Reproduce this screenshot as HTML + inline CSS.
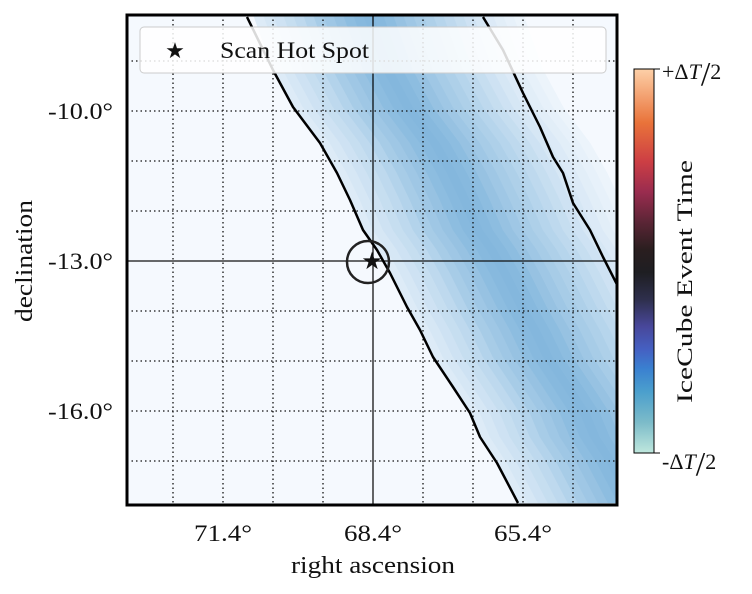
<!DOCTYPE html>
<html><head><meta charset="utf-8"><style>
body{margin:0;background:#fff;}
svg text{font-family:"Liberation Serif",serif;fill:#111;}
</style></head><body>
<svg id="chart" width="752" height="589" viewBox="0 0 752 589" xmlns="http://www.w3.org/2000/svg">
<defs>
<clipPath id="plotclip"><rect x="127" y="15" width="490" height="490"/></clipPath>
<linearGradient id="cbgrad" x1="0" y1="1" x2="0" y2="0">
<stop offset="0" stop-color="#bfe7dd"/><stop offset="0.08" stop-color="#7cbbc9"/><stop offset="0.16" stop-color="#4b9fcd"/><stop offset="0.22" stop-color="#3a80d0"/><stop offset="0.27" stop-color="#4560c2"/><stop offset="0.33" stop-color="#48479a"/><stop offset="0.4" stop-color="#2e2f4c"/><stop offset="0.47" stop-color="#1e1e22"/><stop offset="0.53" stop-color="#2a1e1f"/><stop offset="0.6" stop-color="#5a2535"/><stop offset="0.68" stop-color="#9a2c4f"/><stop offset="0.76" stop-color="#cd3f44"/><stop offset="0.86" stop-color="#e9733a"/><stop offset="1" stop-color="#fdd0a8"/>
</linearGradient>
</defs>
<rect x="127" y="15" width="490" height="490" fill="#f5f9fe"/>
<g id="heat" clip-path="url(#plotclip)"></g>
<g id="grid" clip-path="url(#plotclip)"></g>
<g id="contours" clip-path="url(#plotclip)"></g>
<circle cx="368" cy="262" r="21" fill="none" stroke="#222" stroke-width="2.5"/>
<text x="372" y="269" font-size="24" text-anchor="middle" style="font-family:'DejaVu Sans',sans-serif">★</text>
<rect x="127" y="15" width="490" height="490" fill="none" stroke="#000" stroke-width="3"/>
<g>
<rect x="140" y="27" width="466" height="46" rx="4" fill="#fff" fill-opacity="0.85" stroke="#ccc" stroke-width="1"/>
<text x="175" y="58" font-size="22" text-anchor="middle" style="font-family:'DejaVu Sans',sans-serif">★</text>
<text x="220" y="58" font-size="23" textLength="149" lengthAdjust="spacingAndGlyphs">Scan Hot Spot</text>
</g>
<g id="ticks"></g>
<text x="291" y="573" font-size="24" textLength="164" lengthAdjust="spacingAndGlyphs">right ascension</text>
<text transform="translate(32,322) rotate(-90)" font-size="24" textLength="122" lengthAdjust="spacingAndGlyphs">declination</text>
<g>
<rect x="634" y="69" width="20" height="384" fill="url(#cbgrad)" stroke="#000" stroke-width="1"/>
<line x1="654" y1="69" x2="660" y2="69" stroke="#000"/><line x1="654" y1="453" x2="660" y2="453" stroke="#000"/>
<text x="662" y="79" font-size="22">+Δ<tspan font-style="italic">T</tspan><tspan font-size="34" dy="6">/</tspan><tspan dy="-6">2</tspan></text>
<text x="662" y="469" font-size="22">-Δ<tspan font-style="italic">T</tspan><tspan font-size="34" dy="6">/</tspan><tspan dy="-6">2</tspan></text>
<text transform="translate(692,403) rotate(-90)" font-size="22" textLength="243" lengthAdjust="spacingAndGlyphs">IceCube Event Time</text>
</g>
</svg>
<script>
const leftRA=[70.92,70.4,70.0,69.46,69.12,68.86,68.6,68.32,68.06,67.72,67.46,67.2,66.8,66.46,66.26,65.92,65.5];
const leftDec=[-8.12,-9.18,-9.92,-10.64,-11.24,-11.78,-12.38,-12.78,-13.24,-13.92,-14.38,-14.92,-15.52,-16.04,-16.52,-17.04,-17.84];
const rightRA=[66.2,65.8,65.4,65.06,64.8,64.6,64.4,64.06,63.8,63.3];
const rightDec=[-8.12,-8.78,-9.64,-10.32,-10.92,-11.24,-11.84,-12.38,-12.92,-13.9];
const stripeOffsets=[0,0.2,0.4,0.6,0.8,1.0,1.2,1.4,1.6,1.8,2.0,2.2,2.4,2.6,2.8,3.0,3.2,3.4,3.6,3.8,4.0,4.2,4.4,4.6,4.8,5.0,5.2];
const stripeValues=[0.15,0.2,0.25,0.3,0.35,0.42,0.5,0.55,0.6,0.66,0.7,0.72,0.7,0.66,0.6,0.55,0.5,0.45,0.4,0.35,0.3,0.25,0.2,0.16,0.12,0.09,0.06];
const raTicks=[71.4,68.4,65.4];
const decTicks=[-10,-13,-16];
const raGrid=[72.4,71.4,70.4,69.4,68.4,67.4,66.4,65.4,64.4];
const decGrid=[-9,-10,-11,-12,-13,-14,-15,-16,-17];
const NS='http://www.w3.org/2000/svg';
function xS(ra){return 373-(ra-68.4)*50;}
function yS(d){return 261-(d+13)*50;}
function mk(t,a,p){const e=document.createElementNS(NS,t);for(const k in a)e.setAttribute(k,a[k]);p.appendChild(e);return e;}
function col(v){const a=[245,249,254],b=[88,158,208];return 'rgb('+a.map((c,i)=>Math.round(c+(b[i]-c)*v)).join(',')+')';}
const heat=document.getElementById('heat');
for(let i=0;i<stripeOffsets.length;i++){
  const o=stripeOffsets[i],w=0.2;
  let pts=[];
  for(let j=0;j<leftRA.length;j++)pts.push([xS(leftRA[j]-o),yS(leftDec[j])]);
  for(let j=leftRA.length-1;j>=0;j--)pts.push([xS(leftRA[j]-o-w),yS(leftDec[j])]);
  pts[0][1]-=20;pts[pts.length-1][1]-=20;
  const p=mk('polygon',{points:pts.map(q=>q.join(',')).join(' '),fill:col(stripeValues[i]),stroke:col(stripeValues[i]),'stroke-width':0.5},heat);
  
  
}
const grid=document.getElementById('grid');
raGrid.forEach(r=>{const l=mk('line',{x1:xS(r),x2:xS(r),y1:15,y2:505,stroke:r===68.4?'#000':'#111','stroke-width':r===68.4?1.2:1.3,'stroke-dasharray':r===68.4?'none':'1.5,3'},grid);

});
decGrid.forEach(d=>{const l=mk('line',{y1:yS(d),y2:yS(d),x1:127,x2:617,stroke:'#111','stroke-width':d===-13?1.2:1.3,'stroke-dasharray':d===-13?'none':'1.5,3'},grid);

});
const cg=document.getElementById('contours');
[[leftRA,leftDec],[rightRA,rightDec]].forEach(([r,d])=>{
  const pts=r.map((v,i)=>xS(v)+','+yS(d[i])).join(' ');
  const l=mk('polyline',{points:pts,fill:'none',stroke:'#000','stroke-width':2.5,'stroke-linejoin':'round'},cg);
  
  
});
const tg=document.getElementById('ticks');
raTicks.forEach(r=>{const t=mk('text',{x:xS(r),y:541,'font-size':23,'text-anchor':'middle',textLength:58,lengthAdjust:'spacingAndGlyphs'},tg);t.textContent=r.toFixed(1)+'°';

});
decTicks.forEach(d=>{const t=mk('text',{x:48,y:yS(d)+8,'font-size':23,textLength:65,lengthAdjust:'spacingAndGlyphs'},tg);t.textContent=d.toFixed(1)+'°';

});
</script>
</body></html>
